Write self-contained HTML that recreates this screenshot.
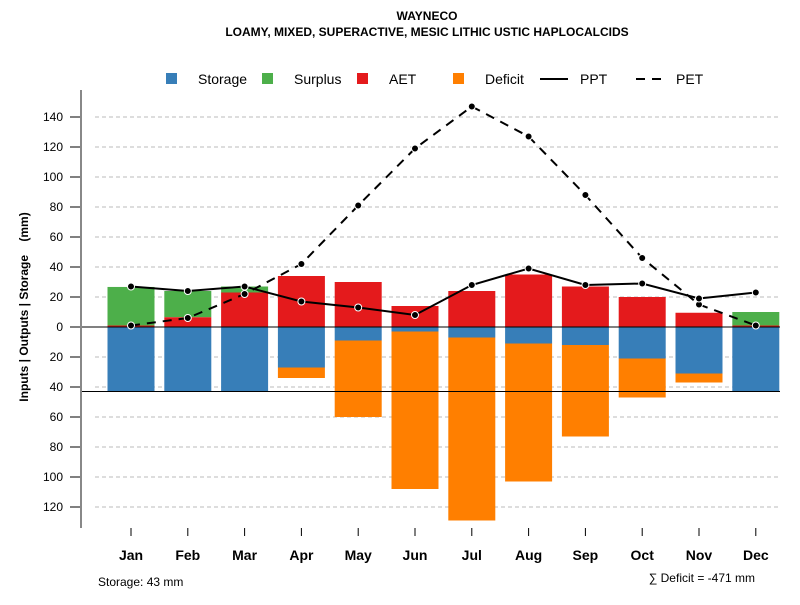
<!DOCTYPE html>
<html><head><meta charset="utf-8"><style>
body{margin:0;background:#fff}
svg{font-family:"Liberation Sans",sans-serif}
</style></head><body>
<svg id="c" width="800" height="600" xmlns="http://www.w3.org/2000/svg">
<text x="427" y="20" text-anchor="middle" font-size="12" font-weight="bold">WAYNECO</text>
<text x="427" y="36" text-anchor="middle" font-size="12" font-weight="bold">LOAMY, MIXED, SUPERACTIVE, MESIC LITHIC USTIC HAPLOCALCIDS</text>
<text xml:space="preserve" style="white-space:pre" transform="translate(28,307) rotate(-90)" text-anchor="middle" font-size="12" font-weight="bold">Inputs | Outputs | Storage    (mm)</text>
<text x="98" y="586" font-size="12">Storage: 43 mm</text>
<text x="755" y="582" text-anchor="end" font-size="12">∑ Deficit = -471 mm</text>
<g>
<rect x="166" y="73" width="11" height="11" fill="#377EB8"/><text x="198" y="84" font-size="14">Storage</text>
<rect x="262" y="73" width="11" height="11" fill="#4DAF4A"/><text x="294" y="84" font-size="14">Surplus</text>
<rect x="357" y="73" width="11" height="11" fill="#E41A1C"/><text x="389" y="84" font-size="14">AET</text>
<rect x="453" y="73" width="11" height="11" fill="#FF7F00"/><text x="485" y="84" font-size="14">Deficit</text>
<line x1="540" y1="79" x2="568" y2="79" stroke="#000" stroke-width="2"/><text x="580" y="84" font-size="14">PPT</text>
<line x1="636" y1="79" x2="664" y2="79" stroke="#000" stroke-width="2" stroke-dasharray="9,7"/><text x="676" y="84" font-size="14">PET</text>
</g>
<g id="grid"></g><g id="bars"></g><g id="lines"></g><g id="axes"></g>
</svg>
<script>
const months=["Jan","Feb","Mar","Apr","May","Jun","Jul","Aug","Sep","Oct","Nov","Dec"];
const storage=[43,43,43,27,9,3,7,11,12,21,31,43];
const deficit=[0,0,0,34,60,108,129,103,73,47,37,0];
const aet=[1,6.5,23,34,30,14,24,35,27,20,9.5,1];
const surplus=[25.7,17.5,4,0,0,0,0,0,0,0,0,9];
const ppt=[27,24,27,17,13,8,28,39,28,29,19,23];
const pet=[1,6,22,42,81,119,147,127,88,46,15,1];
const yTicks=[140,120,100,80,60,40,20,0,-20,-40,-60,-80,-100,-120];
const maxStorage=43;
const NS="http://www.w3.org/2000/svg";
function X(i){return 131+i*56.8;}
function Y(v){return 327-v*1.5;}
function mk(p,t,a){const e=document.createElementNS(NS,t);for(const k in a)e.setAttribute(k,a[k]);document.getElementById(p).appendChild(e);return e;}
yTicks.forEach(v=>{
  let g=mk('grid','line',{x1:95,x2:780,y1:Y(v),y2:Y(v),stroke:'#bbb','stroke-dasharray':'4,3'});
  
  
  let t=mk('axes','line',{x1:70,x2:81,y1:Y(v),y2:Y(v),stroke:'#000'});
  
  
  let l=mk('axes','text',{x:63,y:Y(v)+4,'text-anchor':'end','font-size':12});
  l.textContent=Math.abs(v);
  
  
});
const w=47;
months.forEach((m,i)=>{
  const x=X(i)-w/2;
  let s=mk('bars','rect',{x:x,y:Y(0),width:w,height:storage[i]*1.5,fill:'#377EB8'});
  
  
  if(deficit[i]>storage[i]){
    let d=mk('bars','rect',{x:x,y:Y(-storage[i]),width:w,height:(deficit[i]-storage[i])*1.5,fill:'#FF7F00'});
    
    
  }
  let sp=mk('bars','rect',{x:x,y:Y(aet[i]+surplus[i]),width:w,height:surplus[i]*1.5,fill:'#4DAF4A'});
  
  
  let a=mk('bars','rect',{x:x,y:Y(aet[i]),width:w,height:aet[i]*1.5,fill:'#E41A1C'});
  
  
  let t=mk('axes','line',{x1:X(i),x2:X(i),y1:528,y2:536,stroke:'#000'});
  
  
  let l=mk('axes','text',{x:X(i),y:560,'text-anchor':'middle','font-size':14,'font-weight':'bold'});
  l.textContent=m;
  
  
});
let z=mk('bars','line',{x1:82,x2:780,y1:Y(0),y2:Y(0),stroke:'#000'});


let sl=mk('bars','line',{x1:82,x2:780,y1:Y(-maxStorage),y2:Y(-maxStorage),stroke:'#000'});


let ax=mk('axes','line',{x1:81,x2:81,y1:90,y2:528,stroke:'#888','stroke-width':2});


function series(arr,name,dash){
  let p=mk('lines','polyline',{points:arr.map((v,i)=>X(i)+','+Y(v)).join(' '),fill:'none',stroke:'#000','stroke-width':2,'stroke-dasharray':dash});
  
  
  arr.forEach((v,i)=>{
    let c=mk('lines','circle',{cx:X(i),cy:Y(v),r:3.5,fill:'#000',stroke:'#fff','stroke-width':1});
    
    
  });
}
series(pet,'pet','9,7');
series(ppt,'ppt','none');
</script>
</body></html>
